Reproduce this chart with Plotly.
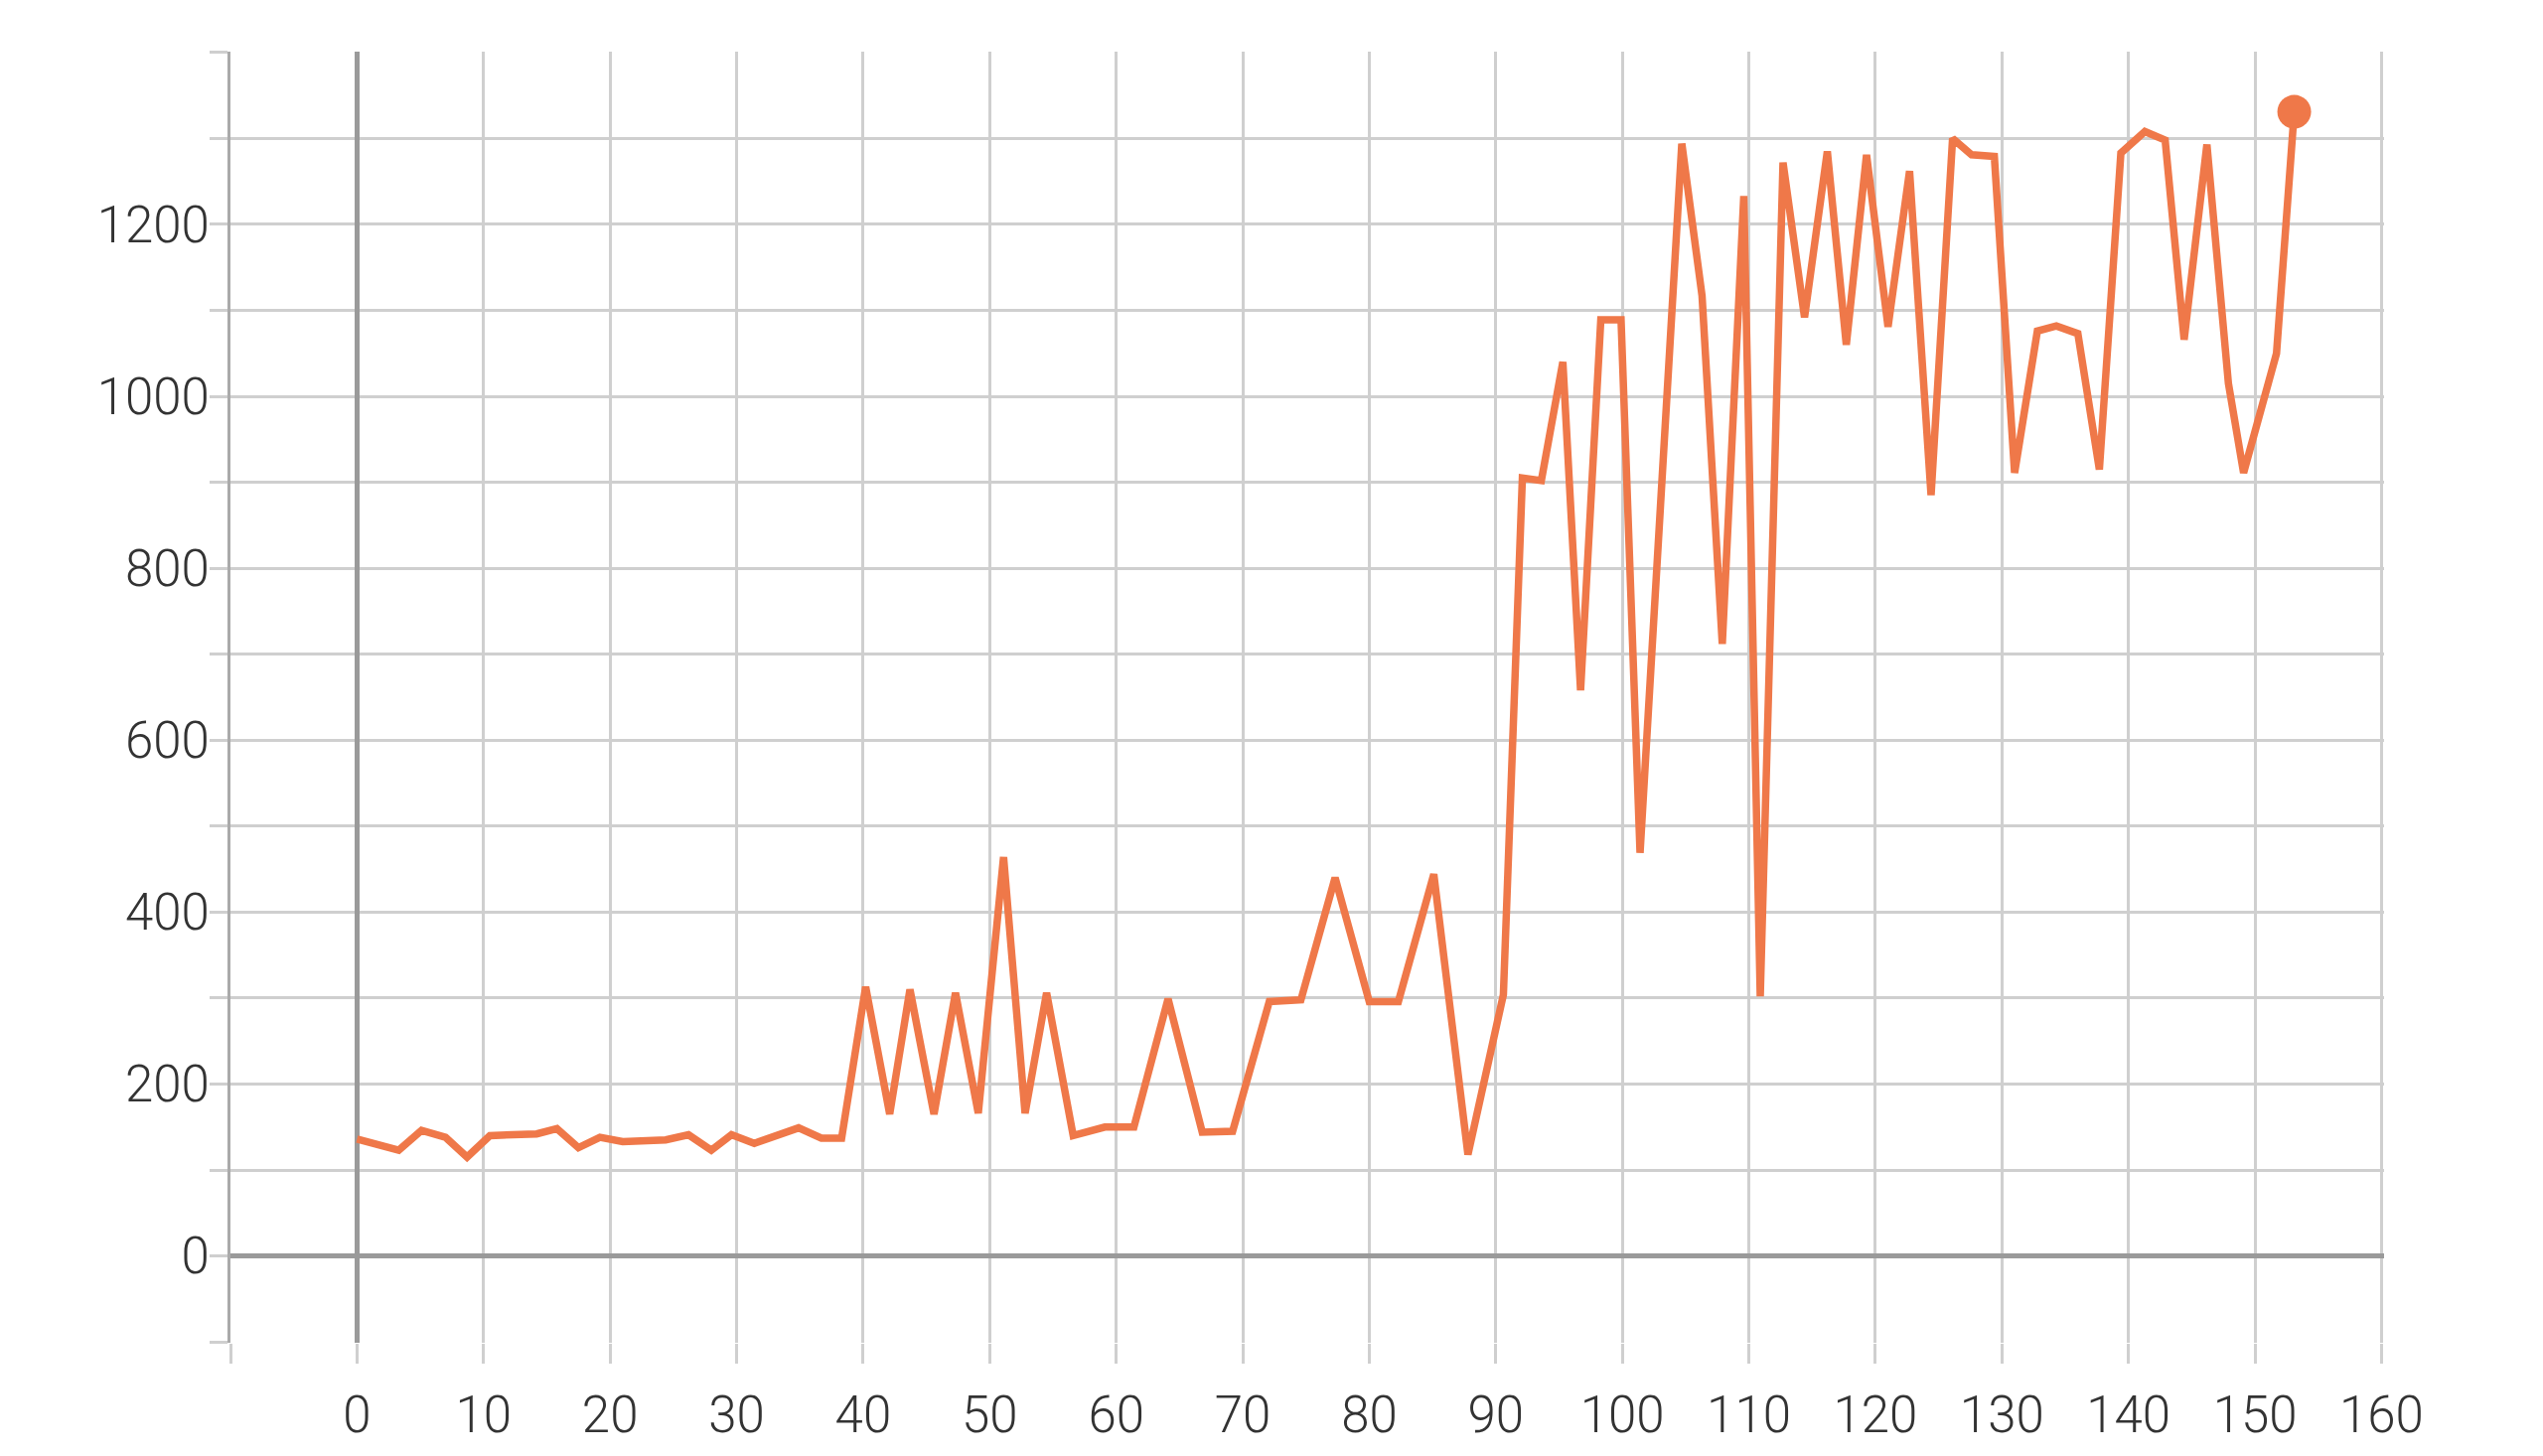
import plotly.graph_objects as go

# Data
x_vals = [0, 3.3, 5.1, 7.0, 8.7, 10.5, 14.2, 15.8, 17.5, 19.2, 21.0, 24.4, 26.2, 28.0, 29.6, 31.4,
          34.9, 36.7, 38.3, 40.2, 42.1, 43.7, 45.6, 47.3, 49.1, 51.1, 52.8, 54.5, 56.6, 59.1, 61.4,
          64.1, 66.8, 69.2, 72.1, 74.6, 77.3, 80.0, 82.3, 85.1, 87.8, 90.6, 92.1, 93.6, 95.3, 96.7,
          98.3, 99.9, 101.4, 104.7, 106.3, 107.9, 109.6, 110.9, 112.7, 114.4, 116.2, 117.7, 119.3,
          121.0, 122.7, 124.4, 126.1, 127.6, 129.4, 131.0, 132.8, 134.3, 136.0, 137.7, 139.4, 141.3,
          142.9, 144.4, 146.2, 147.9, 149.1, 151.7, 153.1]
y_vals = [136, 123, 146, 138, 115, 140, 142, 148, 126, 138, 133, 135, 141, 123, 141, 131,
          149, 137, 137, 313, 165, 310, 165, 306, 166, 464, 166, 306, 140, 150, 150,
          299, 144, 145, 296, 298, 440, 296, 296, 444, 118, 304, 905, 902, 1040, 658,
          1089, 1089, 469, 1294, 1117, 712, 1233, 302, 1272, 1092, 1285, 1060, 1281,
          1081, 1262, 885, 1300, 1281, 1279, 911, 1076, 1082, 1073, 915, 1283, 1308,
          1298, 1066, 1293, 1015, 911, 1050, 1331]

x_tick_vals = list(range(-10, 161, 10))
x_tick_text = ["" if v < 0 else str(v) for v in x_tick_vals]
y_tick_vals = list(range(-100, 1401, 100))
y_tick_text = [str(v) if (v >= 0 and v <= 1200 and v % 200 == 0) else "" for v in y_tick_vals]

LINE_COLOR = "#EF7849"
GRID = "#cfcfcf"
ZERO = "#9a9a9a"

fig = go.Figure()
fig.add_trace(go.Scatter(
    x=x_vals, y=y_vals, mode="lines",
    line=dict(color=LINE_COLOR, width=7.5),
    showlegend=False, hoverinfo="skip"))
fig.add_trace(go.Scatter(
    x=[x_vals[-1]], y=[y_vals[-1]], mode="markers",
    marker=dict(color=LINE_COLOR, size=34),
    showlegend=False))

font = dict(family="Roboto, 'Liberation Sans', sans-serif", size=51, color="#333333", weight=300)

fig.update_layout(
    width=2560, height=1466, autosize=False,
    margin=dict(l=224, r=168, t=44, b=122),
    paper_bgcolor="white", plot_bgcolor="white",
    font=font,
    xaxis=dict(
        range=[-10, 160.2], tickmode="array", tickvals=x_tick_vals, ticktext=x_tick_text,
        showgrid=True, gridcolor=GRID, gridwidth=3,
        zeroline=True, zerolinecolor=ZERO, zerolinewidth=5,
        ticks="outside", ticklen=20, tickwidth=3, tickcolor=GRID,
        showline=False, ticklabelstandoff=8, tickfont=font,
    ),
    yaxis=dict(
        range=[-101, 1401], tickmode="array", tickvals=y_tick_vals, ticktext=y_tick_text,
        showgrid=True, gridcolor=GRID, gridwidth=3,
        zeroline=True, zerolinecolor=ZERO, zerolinewidth=5,
        ticks="outside", ticklen=18, tickwidth=3, tickcolor=GRID,
        showline=True, linecolor="#aaaaaa", linewidth=3,
        ticklabelstandoff=-10, tickfont=font,
    ),
)

fig.write_html("out.html")
